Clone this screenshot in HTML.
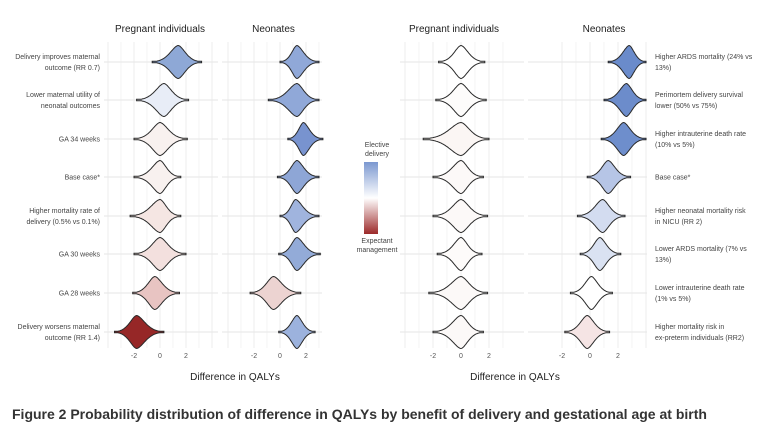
<!DOCTYPE html>
<html><head><meta charset="utf-8"><style>
body{margin:0;background:#fff;width:778px;height:437px;overflow:hidden;font-family:"Liberation Sans",sans-serif}
svg text{font-family:"Liberation Sans",sans-serif}
</style></head><body>
<svg id="chart" width="778" height="437">
<defs><linearGradient id="lg" x1="0" y1="0" x2="0" y2="1">
<stop offset="0" stop-color="#7b98d0"/><stop offset="0.5" stop-color="#ffffff"/><stop offset="1" stop-color="#9c2a2a"/></linearGradient></defs>
<g id="grid"></g><g id="marks"></g>
<g font-size="7" fill="#444" text-anchor="middle">
<text x="377" y="147">Elective</text><text x="377" y="156">delivery</text>
<rect x="364" y="162" width="14" height="72" fill="url(#lg)"/>
<text x="377" y="243">Expectant</text><text x="377" y="252">management</text>
</g>
<text x="235" y="380" font-size="10" fill="#222" text-anchor="middle">Difference in QALYs</text>
<text x="515" y="380" font-size="10" fill="#222" text-anchor="middle">Difference in QALYs</text>
<text x="12" y="419" font-size="14" font-weight="bold" fill="#333">Figure 2 Probability distribution of difference in QALYs by benefit of delivery and gestational age at birth</text>
</svg>
<script>
const rowY=[62,100,139,177,216,254,293,332];
const leftLabels=[["Delivery improves maternal","outcome (RR 0.7)"],["Lower maternal utility of","neonatal outcomes"],["GA 34 weeks"],["Base case*"],["Higher mortality rate of","delivery (0.5% vs 0.1%)"],["GA 30 weeks"],["GA 28 weeks"],["Delivery worsens maternal","outcome (RR 1.4)"]];
const rightLabels=[["Higher ARDS mortality (24% vs","13%)"],["Perimortem delivery survival","lower (50% vs 75%)"],["Higher intrauterine death rate","(10% vs 5%)"],["Base case*"],["Higher neonatal mortality risk","in NICU (RR 2)"],["Lower ARDS mortality (7% vs","13%)"],["Lower intrauterine death rate","(1% vs 5%)"],["Higher mortality risk in","ex-preterm individuals (RR2)"]];
const tickVals=[-2,0,2];
// panel 1: left pregnant
const p1Center=[1.4,0.3,0,0,0,0,-0.4,-1.8];
const p1Min=[-0.6,-1.8,-2,-2,-2.3,-2,-2.1,-3.5];
const p1Max=[3.2,2.2,2.1,1.6,1.6,2.0,1.5,0.3];
const p1Fill=["#8ea8d6","#e8edf7","#f8f1ef","#f8f1ef","#f5e6e3","#f3e0de","#e8c4c2","#962727"];
// panel 2: left neonates
const p2Center=[1.3,1.3,1.8,1.3,1.2,1.3,-0.5,1.3];
const p2Min=[0,-0.9,0.6,-0.2,0,-0.1,-2.3,-0.1];
const p2Max=[3,3,3.3,3,3,3.1,1.6,2.7];
const p2Fill=["#90a8d8","#90a8d8","#7893cf","#8ea6d6","#a0b4de","#93abd8","#ecd3d1","#9cb2dd"];
// panel 3: right pregnant
const p3Center=[0,0,0,0,0,0,0,0];
const p3Min=[-1.6,-1.8,-2.7,-2,-2,-1.7,-2.3,-2];
const p3Max=[1.7,1.8,2.0,1.6,1.9,1.5,1.9,1.6];
const p3Fill=["#ffffff","#fdfcfb","#fbf6f4","#fcf9f8","#fcf9f8","#fdfbfa","#fcf9f8","#fcf9f8"];
// panel 4: right neonates
const p4Center=[2.8,2.6,2.4,1.3,0.9,0.7,0.1,-0.2];
const p4Min=[1.3,1.0,0.8,-0.2,-0.9,-0.7,-1.4,-1.8];
const p4Max=[4.0,4.0,4.0,2.9,2.5,2.2,1.6,1.4];
const p4Fill=["#6a8bcb","#6c8ccb","#6e8ecc","#b6c5e6","#d3dcf0","#dae2f2","#ffffff","#f5e4e4"];
const panels=[
 {name:"pregnant-left",title:"Pregnant individuals",zero:160,u:13,x0:104,x1:218,gMin:-4,gMax:4,c:p1Center,mn:p1Min,mx:p1Max,f:p1Fill},
 {name:"neonates-left",title:"Neonates",zero:280,u:13,x0:222,x1:322,gMin:-4,gMax:3,c:p2Center,mn:p2Min,mx:p2Max,f:p2Fill},
 {name:"pregnant-right",title:"Pregnant individuals",zero:461,u:14,x0:400,x1:524,gMin:-4,gMax:3,c:p3Center,mn:p3Min,mx:p3Max,f:p3Fill},
 {name:"neonates-right",title:"Neonates",zero:590,u:14,x0:528,x1:647,gMin:-2,gMax:4,c:p4Center,mn:p4Min,mx:p4Max,f:p4Fill}];
const NS="http://www.w3.org/2000/svg";
const svg=document.getElementById('chart'),grid=document.getElementById('grid'),marks=document.getElementById('marks');
function mk(tag,attrs,parent){const e=document.createElementNS(NS,tag);for(const k in attrs)e.setAttribute(k,attrs[k]);parent.appendChild(e);return e;}
panels.forEach((p,pi)=>{
 const sx=v=>p.zero+v*p.u;
 for(let g=p.gMin;g<=p.gMax;g++){const l=mk('line',{x1:sx(g),x2:sx(g),y1:42,y2:348,stroke:'#ececec','stroke-width':g%2===0?0.9:0.6},grid);
  
  }
 rowY.forEach(y=>{const l=mk('line',{x1:p.x0,x2:p.x1,y1:y,y2:y,stroke:'#e6e6e6','stroke-width':1},grid);
  
  });
 const t=mk('text',{x:(sx(p.gMin)+sx(p.gMax))/2,y:32,'font-size':10,fill:'#222','text-anchor':'middle'},svg);t.textContent=p.title;
 
 
 tickVals.forEach(v=>{const tt=mk('text',{x:sx(v),y:358,'font-size':7,fill:'#555','text-anchor':'middle'},svg);tt.textContent=v;
  
  });
 rowY.forEach((y,i)=>{
  const c=p.c[i],a=p.mn[i],b=p.mx[i],H=16.5;
  const sL=(c-a)/2.3,sR=(b-c)/2.3;
  const top=[],bot=[];
  const N=80;
  for(let k=0;k<=N;k++){const v=a+(b-a)*k/N;const d=Math.abs(v-c);const s=(v<c)?sL:sR;
   let h=H*Math.exp(-Math.pow(d/s,1.7));
   h=Math.max(h,0.7);
   top.push([sx(v),y-h]);bot.push([sx(v),y+h]);}
  let dstr='M'+top.map(q=>q[0].toFixed(1)+','+q[1].toFixed(1)).join('L')+'L'+bot.reverse().map(q=>q[0].toFixed(1)+','+q[1].toFixed(1)).join('L')+'Z';
  const pa=mk('path',{d:dstr,fill:p.f[i],stroke:'#2a2a2a','stroke-width':1},marks);
  
  
 });
});
function labels(arr,x,anchor,pre){arr.forEach((lines,i)=>{const y0=rowY[i]-(lines.length-1)*5.5+2.5;
 lines.forEach((s,j)=>{const t=mk('text',{x:x,y:y0+j*11,'font-size':7,fill:'#444','text-anchor':anchor},svg);t.textContent=s;
  
  });});}
labels(leftLabels,100,'end','y-label-left');
labels(rightLabels,655,'start','y-label-right');
</script>
</body></html>
